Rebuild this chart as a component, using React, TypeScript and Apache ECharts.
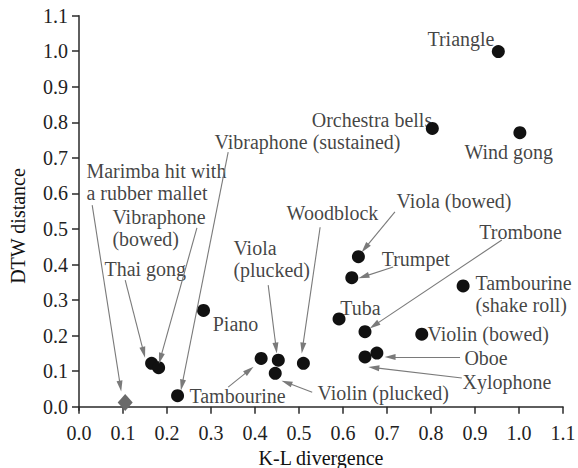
import React, { useEffect, useRef } from 'react';
import * as echarts from 'echarts';

// ---- data ----
const instruments = [
  'Triangle', 'Orchestra bells', 'Wind gong', 'Thai gong', 'Vibraphone (bowed)',
  'Vibraphone (sustained)', 'Piano', 'Tambourine', 'Viola (plucked)', 'Violin (plucked)',
  'Woodblock', 'Viola (bowed)', 'Trumpet', 'Tuba', 'Trombone', 'Oboe', 'Xylophone',
  'Violin (bowed)', 'Tambourine (shake roll)',
];
const klDivergence = [
  0.953, 0.803, 1.002, 0.165, 0.181, 0.224, 0.283, 0.414, 0.453, 0.446,
  0.510, 0.635, 0.620, 0.591, 0.650, 0.677, 0.650, 0.779, 0.873,
];
const dtwDistance = [
  0.999, 0.783, 0.771, 0.122, 0.110, 0.031, 0.271, 0.136, 0.131, 0.094,
  0.122, 0.422, 0.363, 0.247, 0.211, 0.151, 0.140, 0.204, 0.340,
];

const referenceName = 'Marimba hit with a rubber mallet';
const referenceKL = [0.105];
const referenceDTW = [0.012];

const xTicks = [0, 0.1, 0.2, 0.3, 0.4, 0.5, 0.6, 0.7, 0.8, 0.9, 1.0, 1.1];
const yTicks = [0, 0.1, 0.2, 0.3, 0.4, 0.5, 0.6, 0.7, 0.8, 0.9, 1.0, 1.1];

// ---- annotations (instruments order, then the reference) ----
const labelTexts = [
  'Triangle', 'Orchestra bells', 'Wind gong', 'Thai gong', 'Vibraphone\n(bowed)',
  'Vibraphone (sustained)', 'Piano', 'Tambourine', 'Viola\n(plucked)', 'Violin (plucked)',
  'Woodblock', 'Viola (bowed)', 'Trumpet', 'Tuba', 'Trombone', 'Oboe', 'Xylophone',
  'Violin (bowed)', 'Tambourine\n(shake roll)', 'Marimba hit with\na rubber mallet',
];
const labelAnchors: number[][] = [
  [0.793, 1.032], [0.530, 0.804], [0.877, 0.714], [0.059, 0.387], [0.077, 0.500],
  [0.309, 0.742], [0.305, 0.230], [0.252, 0.030], [0.352, 0.413], [0.543, 0.036],
  [0.473, 0.545], [0.723, 0.576], [0.689, 0.413], [0.595, 0.275], [0.911, 0.491],
  [0.877, 0.137], [0.873, 0.067], [0.793, 0.202], [0.902, 0.317], [0.018, 0.632],
];
const arrowFrom: (number[] | null)[] = [
  null, null, null, [0.105, 0.356], [0.268, 0.503],
  [0.339, 0.716], null, [0.339, 0.055], [0.430, 0.342], [0.530, 0.041],
  [0.548, 0.505], [0.718, 0.548], [0.714, 0.393], null, [0.961, 0.469],
  [0.866, 0.140], [0.870, 0.081], null, null, [0.030, 0.567],
];
const arrowTo: (number[] | null)[] = [
  null, null, null, [0.147, 0.153], [0.185, 0.136],
  [0.234, 0.061], null, [0.387, 0.103], [0.448, 0.165], [0.472, 0.068],
  [0.508, 0.165], [0.650, 0.446], [0.647, 0.366], null, [0.671, 0.229],
  [0.707, 0.140], [0.670, 0.110], null, null, [0.094, 0.058],
];

const FONT = 'Liberation Serif';

export default function App() {
  const ref = useRef<HTMLDivElement>(null);
  useEffect(() => {
    if (!ref.current) return;
    const chart = echarts.init(ref.current, null, { renderer: 'svg' });

    const points = instruments.map((n, i) => ({ name: n, value: [klDivergence[i], dtwDistance[i]] }));
    const refPoints = referenceKL.map((x, i) => ({ name: referenceName, value: [x, referenceDTW[i]] }));
    const labelData = labelTexts.map((t, i) => ({
      name: t,
      value: labelAnchors[i],
    }));
    const arrows: any[] = [];
    arrowFrom.forEach((f, i) => {
      const t = arrowTo[i];
      if (f && t) {
        arrows.push([
          { coord: f, symbol: 'none' },
          { coord: t, symbol: 'path://M5,0L10,14L0,14Z', symbolSize: [6, 11] },
        ]);
      }
    });

    const axisColor = '#2a2a2a';
    chart.setOption({
      animation: false,
      backgroundColor: '#ffffff',
      textStyle: { fontFamily: FONT },
      grid: {
        left: 79, right: 15, top: 15.7, bottom: 57.7,
        containLabel: false,
        outerBoundsMode: 'none',
      },
      xAxis: {
        type: 'value',
        min: 0,
        max: 1.1,
        interval: 0.1,
        name: 'K-L divergence',
        nameLocation: 'middle',
        nameGap: 38,
        nameTextStyle: { fontFamily: FONT, fontSize: 20, color: '#111' },
        axisLine: { lineStyle: { color: axisColor, width: 1.5 } },
        axisTick: { show: true, length: 7, lineStyle: { color: axisColor, width: 1.5 }, customValues: xTicks },
        axisLabel: {
          fontFamily: FONT, fontSize: 20, color: '#222', margin: 13,
          customValues: xTicks,
          formatter: (v: number) => v.toFixed(1),
        },
        splitLine: { show: false },
      },
      yAxis: {
        type: 'value',
        min: -0.01,
        max: 1.1,
        axisLine: { show: true, lineStyle: { color: axisColor, width: 1.5 } },
        axisTick: { show: true, length: 7, lineStyle: { color: axisColor, width: 1.5 }, customValues: yTicks },
        axisLabel: {
          fontFamily: FONT, fontSize: 20, color: '#222', margin: 11,
          customValues: yTicks,
          formatter: (v: number) => v.toFixed(1),
        },
        splitLine: { show: false },
      },
      graphic: [
        {
          type: 'text',
          x: 18,
          y: 226,
          rotation: Math.PI / 2,
          style: {
            text: 'DTW distance',
            fontFamily: FONT,
            fontSize: 20,
            fill: '#111',
            align: 'center',
            verticalAlign: 'middle',
          },
        },
      ],
      series: [
        {
          name: 'annotations',
          type: 'scatter',
          symbol: 'circle',
          symbolSize: 1,
          itemStyle: { color: 'rgba(0,0,0,0)' },
          silent: true,
          z: 3,
          data: labelData,
          label: {
            show: true,
            position: [0, 0],
            align: 'left',
            verticalAlign: 'middle',
            formatter: (p: any) => p.name,
            fontFamily: FONT,
            fontSize: 20,
            lineHeight: 22,
            color: '#111',
          },
          markLine: {
            silent: true,
            symbol: ['none', 'path://M5,0L10,14L0,14Z'],
            symbolSize: 10,
            label: { show: false },
            lineStyle: { color: '#7a7a7a', width: 1.1, type: 'solid', opacity: 1 },
            itemStyle: { color: '#7a7a7a', opacity: 1 },
            emphasis: { disabled: true },
            data: arrows,
          },
        },
        {
          name: 'instruments',
          type: 'scatter',
          symbol: 'circle',
          symbolSize: 13,
          itemStyle: { color: '#111111', opacity: 1 },
          z: 4,
          data: points,
        },
        {
          name: 'reference',
          type: 'scatter',
          symbol: 'diamond',
          symbolSize: [15, 17],
          itemStyle: { color: '#6a6a6a', opacity: 1 },
          z: 4,
          data: refPoints,
        },
      ],
    });
    return () => chart.dispose();
  }, []);
  return (
    <div
      ref={ref}
      style={{ position: 'fixed', left: 0, top: 0, width: 578, height: 468, background: '#fff' }}
    />
  );
}
